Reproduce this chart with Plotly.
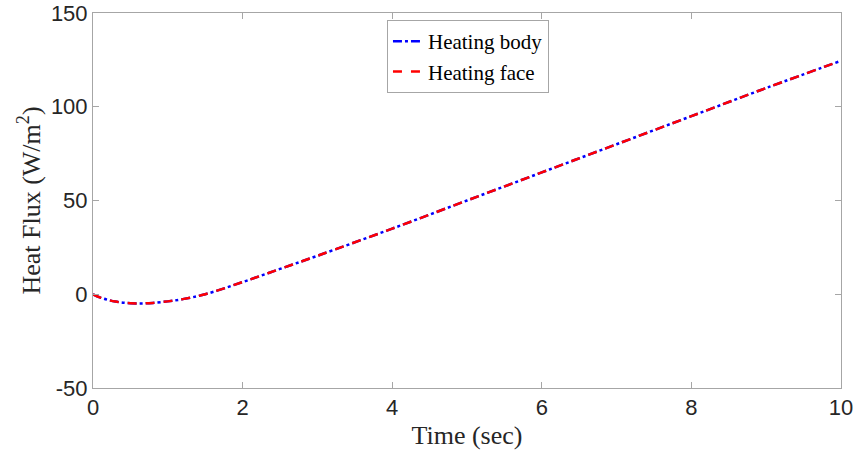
import plotly.graph_objects as go

time_s = [0, 0.1, 0.2, 0.3, 0.4, 0.5, 0.6, 0.7, 0.8, 1.0, 1.2, 1.5, 2.0, 2.5, 3.0, 4.0, 5.0, 6.0, 7.0, 8.0, 9.0, 10.0]
heating_body = [0, -1.8, -3.0, -3.9, -4.5, -4.8, -4.9, -4.85, -4.6, -3.8, -2.6, 0.0, 6.5, 13.5, 20.5, 35.0, 50.0, 65.0, 80.0, 95.0, 110.0, 124.5]
heating_face = [0, -1.8, -3.0, -3.9, -4.5, -4.8, -4.9, -4.85, -4.6, -3.8, -2.6, 0.0, 6.5, 13.5, 20.5, 35.0, 50.0, 65.0, 80.0, 95.0, 110.0, 124.5]
x_ticks = [0, 2, 4, 6, 8, 10]
y_ticks = [-50, 0, 50, 100, 150]
y_tick_labels = ["-50", "0", "50", "100", "150"]

fig = go.Figure()
fig.add_trace(go.Scatter(x=time_s, y=heating_body, mode="lines", name="Heating body",
                         line=dict(color="#0000ff", width=2.5, dash="dashdot", shape="spline")))
fig.add_trace(go.Scatter(x=time_s, y=heating_face, mode="lines", name="Heating face",
                         line=dict(color="#ff0000", width=2.5, dash="dash", shape="spline")))

axis_common = dict(showline=True, linecolor="#a6a6a6", linewidth=1, mirror="ticks",
                   ticks="inside", ticklen=6, tickcolor="#a6a6a6", showgrid=False, zeroline=False,
                   automargin=False,
                   tickfont=dict(family="Liberation Sans, Arial", size=22, color="#262626"))
title_font = dict(family="Liberation Serif, Times New Roman", size=26, color="#262626")
fig.update_xaxes(range=[0, 10], tickvals=x_ticks, **axis_common,
                 title=dict(text="Time (sec)", font=title_font, standoff=6))
fig.update_yaxes(range=[-50, 150], tickvals=y_ticks, ticktext=y_tick_labels, **axis_common,
                 title=dict(text="Heat Flux (W/m<sup>2</sup>)", font=title_font, standoff=2))

fig.update_layout(
    width=858, height=457,
    margin=dict(l=93, r=17, t=13, b=69),
    paper_bgcolor="white", plot_bgcolor="white",
    showlegend=True,
    legend=dict(x=0.393, y=0.981, xanchor="left", yanchor="top",
                bgcolor="white", bordercolor="#a6a6a6", borderwidth=1,
                font=dict(family="Liberation Serif, Times New Roman", size=21, color="black"),
                itemwidth=30, tracegroupgap=0),
)

fig.write_html("out.html")
